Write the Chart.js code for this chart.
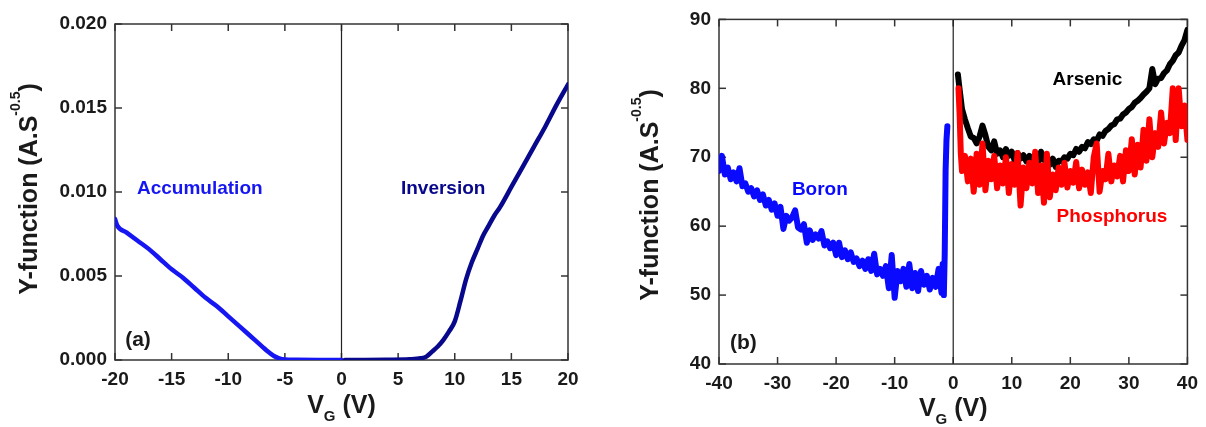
<!DOCTYPE html>
<html>
<head>
<meta charset="utf-8">
<script src="https://cdn.jsdelivr.net/npm/chart.js@4.4.1/dist/chart.umd.min.js"></script>
<style>
  body { margin: 0; background: #fff; }
  #wrap { position: relative; width: 1206px; height: 427px; }
  canvas { position: absolute; top: 0; }
  #chartA { left: 0; }
  #chartB { left: 603px; }
</style>
</head>
<body>
<div id="wrap">
  <canvas id="chartA" width="603" height="427"></canvas>
  <canvas id="chartB" width="603" height="427"></canvas>
</div>
<script>
// panel (a) - Y-function vs VG, accumulation / inversion
const accumVg = [-20, -19.8, -19, -18, -17, -16, -15, -14, -13, -12, -11, -10, -9, -8, -7, -6.5, -6, -5.5, -5, -4, -2, 0];
const accumY = [0.0084, 0.0080, 0.0076, 0.0071, 0.0066, 0.0060, 0.0054, 0.0049, 0.0043, 0.0037, 0.0032, 0.0026, 0.0020, 0.0014, 0.0008, 0.0005, 0.00025, 0.0001, 0.00003, 0.00001, 0, 0];

const invVg = [0.3, 2, 4, 6, 7, 7.5, 8, 8.5, 9, 9.5, 10, 10.5, 11, 11.5, 12, 12.5, 13, 13.5, 14, 15, 16, 17, 18, 19, 20];
const invY = [0, 0, 0.00001, 0.00004, 0.0001, 0.0002, 0.0005, 0.0008, 0.0012, 0.0017, 0.0023, 0.0035, 0.0048, 0.0058, 0.0066, 0.0074, 0.0080, 0.0086, 0.0091, 0.0103, 0.0115, 0.0127, 0.0139, 0.0152, 0.0164];

const xTicksA = [-20, -15, -10, -5, 0, 5, 10, 15, 20];
const yTicksA = [0, 0.005, 0.010, 0.015, 0.020];

// panel (b) - boron / arsenic / phosphorus
const boronVg = [-40, -39.5, -39, -38.5, -38, -37.5, -37, -36.5, -36, -35.5,
  -35, -34.5, -34, -33.5, -33, -32.5, -32, -31.5, -31, -30.5,
  -30, -29.5, -29, -28.5, -28, -27.5, -27, -26.5, -26, -25.5,
  -25, -24.5, -24, -23.5, -23, -22.5, -22, -21.5, -21, -20.5,
  -20, -19.5, -19, -18.5, -18, -17.5, -17, -16.5, -16, -15.5,
  -15, -14.5, -14, -13.5, -13, -12.5, -12, -11.5, -11, -10.5,
  -10, -9.5, -9, -8.5, -8, -7.5, -7, -6.5, -6, -5.5,
  -5, -4.5, -4, -3.5, -3, -2.5, -2, -1.8, -1.6, -1.45,
  -1.3, -1.15, -1];
const boronY = [68.0, 70.2, 67.5, 68.5, 66.8, 67.8, 66.5, 68.4, 65.8, 66.2,
  65.0, 65.5, 64.3, 65.2, 63.8, 64.6, 63.0, 63.8, 62.4, 63.3,
  61.5, 62.8, 59.6, 61.5, 60.8, 61.3, 62.3, 59.8, 59.5, 60.3,
  57.6, 59.4, 58.0, 58.8, 58.2, 59.3, 57.2, 57.8, 56.8, 57.6,
  55.8, 57.6, 55.5, 56.5, 55.2, 56.2, 54.8, 55.3, 54.2, 55.0,
  53.8, 55.2, 53.5, 56.0, 53.0, 53.8, 52.8, 54.2, 51.0, 55.8,
  49.6, 53.5, 52.0, 53.8, 51.2, 54.5, 51.0, 53.2, 50.6, 53.5,
  51.5, 52.8, 50.8, 52.5, 51.2, 53.8, 50.3, 54.5, 50.0, 56.0,
  68.0, 72.5, 74.5];

const arsenicVg = [0.8, 1, 1.5, 2, 2.5, 3, 3.5, 4, 4.5, 5,
  5.5, 6, 6.5, 7, 7.5, 8, 8.5, 9, 9.5, 10,
  10.5, 11, 11.5, 12, 12.5, 13, 13.5, 14, 14.5, 15,
  15.5, 16, 16.5, 17, 17.5, 18, 18.5, 19, 19.5, 20,
  20.5, 21, 21.5, 22, 22.5, 23, 23.5, 24, 24.5, 25,
  25.5, 26, 26.5, 27, 27.5, 28, 28.5, 29, 29.5, 30,
  30.5, 31, 31.5, 32, 32.5, 33, 33.5, 34, 34.5, 35,
  35.5, 36, 36.5, 37, 37.5, 38, 38.5, 39, 39.5, 40];
const arsenicY = [82.0, 80.5, 77.0, 75.5, 74.2, 73.0, 72.8, 72.0, 73.0, 74.6,
  73.2, 71.5, 71.0, 72.3, 70.5, 71.0, 70.0, 71.2, 70.2, 70.8,
  69.5, 70.6, 69.8, 70.3, 69.4, 70.2, 69.3, 70.4, 69.2, 70.8,
  69.6, 69.9, 68.9, 69.8, 68.6, 69.5, 69.4, 70.0, 69.8, 70.5,
  70.3, 71.2, 70.8, 71.5, 71.3, 72.2, 71.9, 72.6, 72.4, 73.3,
  73.1, 73.8, 74.1, 74.6, 74.8, 75.5, 75.6, 76.2, 76.5, 77.0,
  77.3, 77.9, 78.2, 78.6, 79.1, 79.5, 80.0, 82.8, 80.6, 81.4,
  81.5, 82.2, 82.6, 83.5, 84.0, 84.8, 85.2, 86.2, 87.0, 88.5];

const phosVg = [0.9, 1.1, 1.3, 1.5, 2, 2.5, 3, 3.5, 4, 4.5,
  5, 5.5, 6, 6.5, 7, 7.5, 8, 8.5, 9, 9.5,
  10, 10.5, 11, 11.5, 12, 12.5, 13, 13.5, 14, 14.5,
  15, 15.5, 16, 16.5, 17, 17.5, 18, 18.5, 19, 19.5,
  20, 20.5, 21, 21.5, 22, 22.5, 23, 23.5, 24, 24.5,
  25, 25.5, 26, 26.5, 27, 27.5, 28, 28.5, 29, 29.5,
  30, 30.5, 31, 31.5, 32, 32.5, 33, 33.5, 34, 34.5,
  35, 35.5, 36, 36.5, 37, 37.5, 38, 38.5, 39, 39.5,
  40];
const phosY = [80.0, 76.0, 70.5, 68.0, 70.2, 66.5, 69.8, 65.0, 70.5, 66.0,
  72.0, 65.2, 69.5, 66.8, 70.2, 65.5, 68.8, 66.2, 70.0, 64.8,
  69.0, 66.0, 70.6, 63.0, 68.5, 65.5, 69.2, 66.2, 70.8, 64.8,
  68.8, 63.4, 70.5, 64.2, 67.5, 65.2, 68.5, 66.0, 69.2, 65.6,
  68.0, 66.3, 69.3, 65.5, 68.2, 66.0, 67.8, 64.8, 70.0, 72.0,
  65.0, 68.0, 66.8, 70.5, 66.5, 68.8, 67.2, 70.2, 66.5, 71.0,
  68.0, 72.6, 67.5, 71.8, 68.5, 74.0, 69.5, 75.5, 70.0, 73.5,
  71.5, 76.5, 72.0, 75.0, 73.5, 80.0, 72.5, 80.0, 74.5, 77.5,
  72.5];

const xTicksB = [-40, -30, -20, -10, 0, 10, 20, 30, 40];
const yTicksB = [40, 50, 60, 70, 80, 90];

const FONT = '"Liberation Sans", Arial, sans-serif';
const INK = '#1a1a1a';

function pairs(xs, ys) {
    return xs.map((x, i) => ({ x: x, y: ys[i] }));
}

function line(ctx, x1, y1, x2, y2) {
    ctx.beginPath();
    ctx.moveTo(x1, y1);
    ctx.lineTo(x2, y2);
    ctx.stroke();
}

// box frame, inward ticks on all four sides, vertical line at VG = 0
const framePlugin = {
    id: 'frame',
    beforeDatasetsDraw(chart) {
        const { ctx, chartArea: a, scales: { x, y } } = chart;
        const tl = 7;
        ctx.save();
        ctx.strokeStyle = '#333';
        ctx.lineWidth = 1.5;
        x.ticks.forEach(t => {
            const p = x.getPixelForValue(t.value);
            line(ctx, p, a.bottom, p, a.bottom - tl);
            line(ctx, p, a.top, p, a.top + tl);
        });
        y.ticks.forEach(t => {
            const p = y.getPixelForValue(t.value);
            line(ctx, a.left, p, a.left + tl, p);
            line(ctx, a.right, p, a.right - tl, p);
        });
        ctx.strokeStyle = '#222';
        ctx.lineWidth = 1.2;
        const z = x.getPixelForValue(0);
        line(ctx, z, a.top, z, a.bottom);
        ctx.strokeStyle = '#333';
        ctx.lineWidth = 1.5;
        ctx.strokeRect(a.left, a.top, a.right - a.left, a.bottom - a.top);
        ctx.restore();
    }
};

// axis titles with sub/superscripts
const titlePlugin = {
    id: 'titles',
    afterDraw(chart, args, o) {
        const { ctx, chartArea: a } = chart;
        const big = 'bold 25px ' + FONT;
        const sub = 'bold 15px ' + FONT;
        const sup = 'bold 14px ' + FONT;
        ctx.save();
        ctx.fillStyle = INK;
        ctx.textAlign = 'left';
        ctx.textBaseline = 'alphabetic';

        ctx.font = big;
        const wV = ctx.measureText('V').width;
        const wR = ctx.measureText(' (V)').width;
        ctx.font = sub;
        const wG = ctx.measureText('G').width;
        const x0 = (a.left + a.right) / 2 - (wV + wG + wR) / 2;
        ctx.font = big;
        ctx.fillText('V', x0, o.xBase);
        ctx.font = sub;
        ctx.fillText('G', x0 + wV, o.xBase + 8);
        ctx.font = big;
        ctx.fillText(' (V)', x0 + wV + wG, o.xBase);

        ctx.translate(o.yBase, o.yCenter);
        ctx.rotate(-Math.PI / 2);
        const main = 'Y-function (A.S', power = '-0.5', end = ')';
        ctx.font = big;
        const w1 = ctx.measureText(main).width;
        const w3 = ctx.measureText(end).width;
        ctx.font = sup;
        const w2 = ctx.measureText(power).width;
        const s = -(w1 + w2 + w3) / 2;
        ctx.font = big;
        ctx.fillText(main, s, 0);
        ctx.font = sup;
        ctx.fillText(power, s + w1, -17);
        ctx.font = big;
        ctx.fillText(end, s + w1 + w2, 0);
        ctx.restore();
    }
};

// text labels inside the plot, placed in data coordinates
const notePlugin = {
    id: 'notes',
    afterDatasetsDraw(chart, args, o) {
        const { ctx, scales: { x, y } } = chart;
        ctx.save();
        ctx.textAlign = 'left';
        ctx.textBaseline = 'middle';
        o.items.forEach(n => {
            ctx.font = 'bold ' + n.size + 'px ' + FONT;
            ctx.fillStyle = n.color;
            ctx.fillText(n.text, x.getPixelForValue(n.x), y.getPixelForValue(n.y));
        });
        ctx.restore();
    }
};

function axis(min, max, tickList, fmt, isY, size) {
    return {
        type: 'linear',
        min: min,
        max: max,
        grid: { display: false, drawTicks: false },
        border: { display: false },
        afterBuildTicks: s => { s.ticks = tickList.map(v => ({ value: v })); },
        afterFit: s => { if (isY) s.width = size; else s.height = size; },
        ticks: {
            padding: 8,
            color: INK,
            maxRotation: 0,
            autoSkip: false,
            font: { family: FONT, size: 19, weight: 'bold' },
            callback: fmt
        }
    };
}

function curve(points, color, width, smooth, order) {
    return {
        data: points,
        borderColor: color,
        borderWidth: width,
        pointRadius: 0,
        fill: false,
        tension: smooth ? 0.3 : 0,
        cubicInterpolationMode: smooth ? 'monotone' : 'default',
        borderJoinStyle: 'round',
        borderCapStyle: 'round',
        order: order
    };
}

new Chart(document.getElementById('chartA'), {
    type: 'line',
    data: {
        datasets: [
            curve(pairs(accumVg, accumY), '#1616f2', 4.5, true, 1),
            curve(pairs(invVg, invY), '#08088c', 4.5, true, 0)
        ]
    },
    options: {
        responsive: false,
        animation: false,
        layout: { padding: { left: 0, top: 24, right: 35, bottom: 0 } },
        plugins: {
            legend: { display: false },
            tooltip: { enabled: false },
            titles: { xBase: 413, yBase: 37, yCenter: 189 },
            notes: {
                items: [
                    { text: 'Accumulation', x: -18.06, y: 0.0102, color: '#1616f2', size: 19 },
                    { text: 'Inversion', x: 5.25, y: 0.0102, color: '#08088c', size: 19 },
                    { text: '(a)', x: -19.1, y: 0.0012, color: INK, size: 21 }
                ]
            }
        },
        scales: {
            x: axis(-20, 20, xTicksA, v => String(v), false, 67),
            y: axis(0, 0.020, yTicksA, v => v.toFixed(3), true, 115)
        }
    },
    plugins: [framePlugin, notePlugin, titlePlugin]
});

new Chart(document.getElementById('chartB'), {
    type: 'line',
    data: {
        datasets: [
            curve(pairs(boronVg, boronY), '#0a0aff', 6, false, 2),
            curve(pairs(arsenicVg, arsenicY), '#000000', 6, false, 1),
            curve(pairs(phosVg, phosY), '#ff0000', 6, false, 0)
        ]
    },
    options: {
        responsive: false,
        animation: false,
        layout: { padding: { left: 0, top: 16, right: 18, bottom: 0 } },
        plugins: {
            legend: { display: false },
            tooltip: { enabled: false },
            titles: { xBase: 416, yBase: 55, yCenter: 195 },
            notes: {
                items: [
                    { text: 'Boron', x: -27.55, y: 65.3, color: '#0a0aff', size: 19 },
                    { text: 'Arsenic', x: 16.97, y: 81.2, color: '#000000', size: 19 },
                    { text: 'Phosphorus', x: 17.65, y: 61.3, color: '#ff0000', size: 19 },
                    { text: '(b)', x: -38.12, y: 43.0, color: INK, size: 21 }
                ]
            }
        },
        scales: {
            x: axis(-40, 40, xTicksB, v => String(v), false, 63),
            y: axis(40, 90, yTicksB, v => String(v), true, 116)
        }
    },
    plugins: [framePlugin, notePlugin, titlePlugin]
});
</script>
</body>
</html>
